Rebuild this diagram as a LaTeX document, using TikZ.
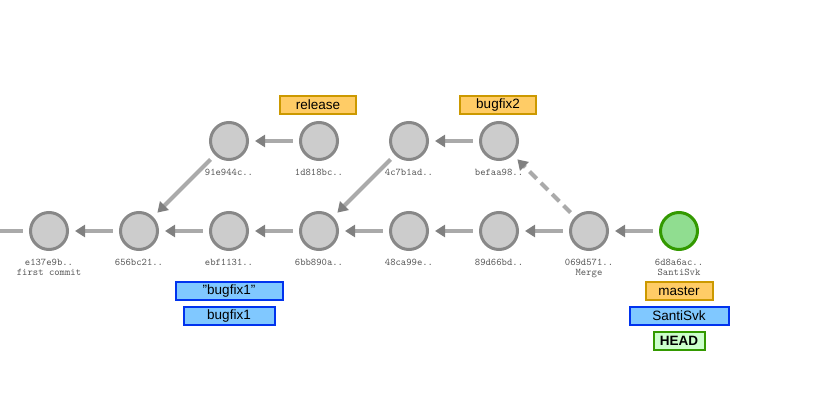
\documentclass[tikz,border=0pt]{standalone}
\usepackage{fontspec}
\setmainfont{Liberation Sans}
\usepackage{xcolor}
\usepackage{tikz}
\usetikzlibrary{positioning,arrows.meta}

\definecolor{cmtfill}{HTML}{CCCCCC}
\definecolor{cmtdraw}{HTML}{888888}
\definecolor{headfill}{HTML}{90DD90}
\definecolor{headdraw}{HTML}{339900}
\definecolor{edgegray}{HTML}{AAAAAA}
\definecolor{tipgray}{HTML}{808080}
\definecolor{brfill}{HTML}{FFCC66}
\definecolor{brdraw}{HTML}{CC9900}
\definecolor{tagfill}{HTML}{80C8FF}
\definecolor{tagdraw}{HTML}{0033EE}
\definecolor{hdfill}{HTML}{CCFFCC}

\begin{document}
\begin{tikzpicture}[
  x=1pt,y=-1pt,
  every node/.style={align=center},
  commit/.style={circle,draw=cmtdraw,line width=3pt,fill=cmtfill,
                 minimum size=37pt,inner sep=0pt},
  current/.style={commit,draw=headdraw,fill=headfill},
  hash/.style={font=\ttfamily\fontsize{10.2}{10}\selectfont,text=black!66,
               anchor=north,inner sep=0pt},
  branch/.style={rectangle,draw=brdraw,line width=2pt,fill=brfill,
                 minimum height=18pt,inner sep=1pt,
                 font=\fontsize{13.5}{14}\selectfont},
  tagbox/.style={branch,draw=tagdraw,fill=tagfill},
  headbox/.style={branch,draw=headdraw,fill=hdfill,font=\bfseries\fontsize{13.5}{14}\selectfont},
  arr/.style={edgegray,line width=4pt,shorten <=6pt,shorten >=6pt,
              -{Triangle[length=10pt,width=12pt,color=tipgray]}},
  dasharr/.style={arr,dash pattern=on 10pt off 6pt},
]
\useasboundingbox (0,0) rectangle (829,417);

% commits, main line
\node[commit]  at (49,231)  (c1) {};
\node[commit]  at (139,231) (c2) {};
\node[commit]  at (229,231) (c3) {};
\node[commit]  at (319,231) (c4) {};
\node[commit]  at (409,231) (c5) {};
\node[commit]  at (499,231) (c6) {};
\node[commit]  at (589,231) (c7) {};
\node[current] at (679,231) (c8) {};

% commits, upper line
\node[commit] at (229,141) (t1) {};
\node[commit] at (319,141) (t2) {};
\node[commit] at (409,141) (t3) {};
\node[commit] at (499,141) (t4) {};

% hashes
\node[hash] at (49,258.5)  (h1) {e137e9b..\\first commit};
\node[hash] at (139,258.5) (h2) {656bc21..};
\node[hash] at (229,258.5) (h3) {ebf1131..};
\node[hash] at (319,258.5) (h4) {6bb890a..};
\node[hash] at (409,258.5) (h5) {48ca99e..};
\node[hash] at (499,258.5) (h6) {89d66bd..};
\node[hash] at (589,258.5) (h7) {069d571..\\Merge};
\node[hash] at (679,258.5) (h8) {6d8a6ac..\\SantiSvk};
\node[hash] at (229,168.5) (g1) {91e944c..};
\node[hash] at (319,168.5) (g2) {1d818bc..};
\node[hash] at (409,168.5) (g3) {4c7b1ad..};
\node[hash] at (499,168.5) (g4) {befaa98..};

% refs
\node[branch,minimum width=76pt] at (318,105) (release) {release};
\node[branch,minimum width=76pt] at (498,105) (bugfix2) {bugfix2};
\node[tagbox,minimum width=107pt] at (229,291) (bugtag) {"bugfix1"};
\node[tagbox,minimum width=91pt]  at (229,316) (bugfix1) {bugfix1};
\node[branch,minimum width=67pt]  at (679,291) (master) {master};
\node[tagbox,minimum width=99pt]  at (679,316) (santi) {SantiSvk};
\node[headbox,minimum width=51pt] at (679,341) (head) {HEAD};

\coordinate (root) at (0,231);

\draw[edgegray,line width=4pt,shorten >=6pt] (root) -- (c1);
\draw[arr] (c2) -- (c1);
\draw[arr] (c3) -- (c2);
\draw[arr] (c4) -- (c3);
\draw[arr] (c5) -- (c4);
\draw[arr] (c6) -- (c5);
\draw[arr] (c7) -- (c6);
\draw[arr] (c8) -- (c7);
\draw[arr] (t2) -- (t1);
\draw[arr] (t4) -- (t3);
\draw[arr] (t1) -- (c2);
\draw[arr] (t3) -- (c4);
\draw[dasharr] (c7) -- (t4);
\end{tikzpicture}
\end{document}
